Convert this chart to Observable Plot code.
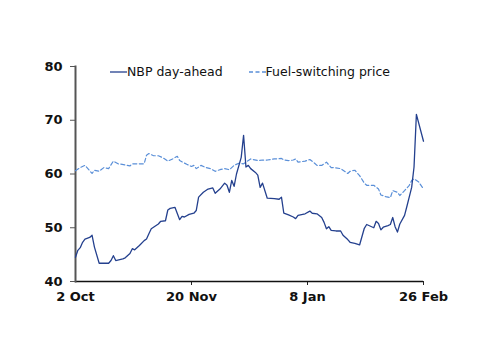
<!DOCTYPE html>
<html>
<head>
<meta charset="utf-8">
<script src="https://cdn.jsdelivr.net/npm/d3@7"></script>
<script src="https://cdn.jsdelivr.net/npm/@observablehq/plot@0.6"></script>
<style>
  html, body { margin: 0; padding: 0; background: #fff; }
  #wrap { position: relative; width: 500px; height: 354px; }
  .legend { position: absolute; top: 64px; left: 110px; font: 12.5px "DejaVu Sans", sans-serif; color: #111; white-space: nowrap; display: flex; align-items: center; }
  .legend .item { display: flex; align-items: center; }
  .legend svg { display: block; }
</style>
</head>
<body>
<div id="wrap">
  <div class="legend">
    <div class="item"><svg width="17" height="10"><line x1="0" y1="5" x2="17" y2="5" stroke="#24408e" stroke-width="1.3"/></svg><span>NBP day-ahead</span></div>
    <div class="item" style="margin-left:26px"><svg width="17" height="10"><line x1="0" y1="5" x2="17" y2="5" stroke="#5a8fd8" stroke-width="1.3" stroke-dasharray="4,2.5"/></svg><span>Fuel-switching price</span></div>
  </div>
</div>
<script>
const seriesNames = ["NBP day-ahead", "Fuel-switching price"];

const nbpDates = ["2017-10-02","2017-10-03","2017-10-04","2017-10-05","2017-10-06","2017-10-08","2017-10-09","2017-10-10","2017-10-12","2017-10-14","2017-10-16","2017-10-17","2017-10-18","2017-10-19","2017-10-22","2017-10-23","2017-10-25","2017-10-26","2017-10-27","2017-10-29","2017-10-31",
"2017-11-01","2017-11-02","2017-11-03","2017-11-06","2017-11-07","2017-11-09","2017-11-10","2017-11-11","2017-11-13","2017-11-15","2017-11-16","2017-11-17","2017-11-19","2017-11-21","2017-11-22","2017-11-23","2017-11-25","2017-11-27","2017-11-29","2017-11-30",
"2017-12-02","2017-12-04","2017-12-05","2017-12-06","2017-12-07","2017-12-08","2017-12-09","2017-12-11","2017-12-12","2017-12-13","2017-12-14","2017-12-15","2017-12-17","2017-12-18","2017-12-19","2017-12-20","2017-12-22","2017-12-25","2017-12-27","2017-12-28","2017-12-29","2017-12-31",
"2018-01-02","2018-01-03","2018-01-04","2018-01-07","2018-01-09","2018-01-10","2018-01-12","2018-01-14","2018-01-15","2018-01-16","2018-01-17","2018-01-18","2018-01-20","2018-01-22","2018-01-23","2018-01-25","2018-01-26","2018-01-28","2018-01-30",
"2018-02-01","2018-02-02","2018-02-05","2018-02-06","2018-02-07","2018-02-08","2018-02-09","2018-02-11","2018-02-12","2018-02-13","2018-02-14","2018-02-15","2018-02-16","2018-02-18","2018-02-19","2018-02-21","2018-02-22","2018-02-23","2018-02-26"];
const nbpValues = [44.5,45.8,46.3,47.3,47.9,48.2,48.6,46.4,43.4,43.4,43.4,43.9,44.8,43.9,44.2,44.4,45.2,46.1,45.9,46.7,47.6,
47.9,48.9,49.8,50.7,51.2,51.3,53.3,53.6,53.8,51.5,52.1,52.0,52.5,52.7,53.2,55.7,56.6,57.2,57.4,56.4,
57.2,58.3,57.9,56.6,58.8,57.7,60.0,63.1,67.2,61.3,61.6,61.0,60.3,59.8,57.5,58.3,55.5,55.4,55.3,55.7,52.7,52.4,
52.0,51.7,52.3,52.6,53.1,52.7,52.6,51.9,51.0,49.8,50.2,49.5,49.4,49.4,48.6,47.8,47.3,47.1,46.8,
49.9,50.6,50.0,51.2,50.8,49.6,50.1,50.4,50.6,51.9,50.2,49.2,50.7,52.3,54.0,57.5,61.3,71.1,66.1];

const fuelDates = ["2017-10-02","2017-10-04","2017-10-06","2017-10-09","2017-10-10","2017-10-12","2017-10-14","2017-10-16","2017-10-18","2017-10-20","2017-10-23","2017-10-25","2017-10-26","2017-10-29","2017-10-31",
"2017-11-01","2017-11-02","2017-11-04","2017-11-06","2017-11-08","2017-11-10","2017-11-12","2017-11-14","2017-11-15","2017-11-18","2017-11-20","2017-11-21","2017-11-22","2017-11-24","2017-11-26","2017-11-28","2017-11-30",
"2017-12-02","2017-12-04","2017-12-06","2017-12-08","2017-12-10","2017-12-12","2017-12-13","2017-12-15","2017-12-18","2017-12-20","2017-12-22","2017-12-25","2017-12-28","2017-12-29","2017-12-31",
"2018-01-02","2018-01-03","2018-01-04","2018-01-07","2018-01-09","2018-01-11","2018-01-12","2018-01-14","2018-01-16","2018-01-18","2018-01-19","2018-01-22","2018-01-25","2018-01-26","2018-01-28","2018-01-30",
"2018-02-01","2018-02-02","2018-02-05","2018-02-07","2018-02-08","2018-02-10","2018-02-12","2018-02-13","2018-02-15","2018-02-16","2018-02-18","2018-02-20","2018-02-21","2018-02-22","2018-02-24","2018-02-26"];
const fuelValues = [60.6,61.2,61.6,60.1,60.7,60.5,61.2,61.0,62.4,61.9,61.7,61.5,61.9,61.9,61.9,
63.5,63.8,63.4,63.4,63.0,62.4,62.8,63.3,62.5,61.8,61.4,61.6,61.0,61.6,61.2,61.0,60.5,
60.8,61.0,60.8,61.6,62.0,61.9,62.2,62.8,62.5,62.6,62.6,62.8,62.9,62.6,62.5,
62.6,62.8,62.2,62.4,62.7,62.0,61.6,61.6,62.2,61.2,61.2,61.0,60.1,60.5,60.7,59.7,
58.3,57.9,57.9,57.2,56.1,55.8,55.6,56.9,56.6,56.0,56.9,57.9,58.8,59.1,58.5,57.2];

const yTicks = [40, 50, 60, 70, 80];
const xTickDates = ["2017-10-02", "2017-11-20", "2018-01-08", "2018-02-26"];
const xTickLabels = ["2 Oct", "20 Nov", "8 Jan", "26 Feb"];

const parse = d3.utcParse("%Y-%m-%d");
const nbp = nbpDates.map((d, i) => ({date: parse(d), value: nbpValues[i]}));
const fuel = fuelDates.map((d, i) => ({date: parse(d), value: fuelValues[i]}));
const xTicks = xTickDates.map(parse);
const labelOf = new Map(xTicks.map((d, i) => [+d, xTickLabels[i]]));

const chart = Plot.plot({
  width: 500,
  height: 354,
  marginLeft: 75,
  marginRight: 77,
  marginTop: 66,
  marginBottom: 73,
  style: {fontFamily: "'DejaVu Sans', sans-serif", fontSize: "13px", fontWeight: "bold", color: "#111", background: "#fff"},
  x: {type: "utc", domain: [xTicks[0], xTicks[xTicks.length - 1]]},
  y: {domain: [40, 80]},
  marks: [
    Plot.axisY({ticks: yTicks, tickSize: 5, tickPadding: 8, label: null, stroke: "#555", fontWeight: "bold", fontSize: 13}),
    Plot.axisX({ticks: xTicks.slice(1), tickSize: 4, tickPadding: 6, label: null, tickFormat: () => "", stroke: "#222"}),
    Plot.axisX({ticks: xTicks, tickSize: 0, tickPadding: 10, label: null, tickFormat: d => labelOf.get(+d), fontWeight: "bold", fontSize: 13}),
    Plot.ruleY([40], {stroke: "#111", strokeWidth: 1.6}),
    Plot.frame({anchor: "left", stroke: "#555", strokeWidth: 2}),
    Plot.line(fuel, {x: "date", y: "value", stroke: "#5a8fd8", strokeWidth: 1.2, strokeDasharray: "4,2.5"}),
    Plot.line(nbp, {x: "date", y: "value", stroke: "#24408e", strokeWidth: 1.3})
  ]
});
document.getElementById("wrap").prepend(chart);
chart.style.position = "absolute";
chart.style.left = "0";
chart.style.top = "0";
</script>
</body>
</html>
